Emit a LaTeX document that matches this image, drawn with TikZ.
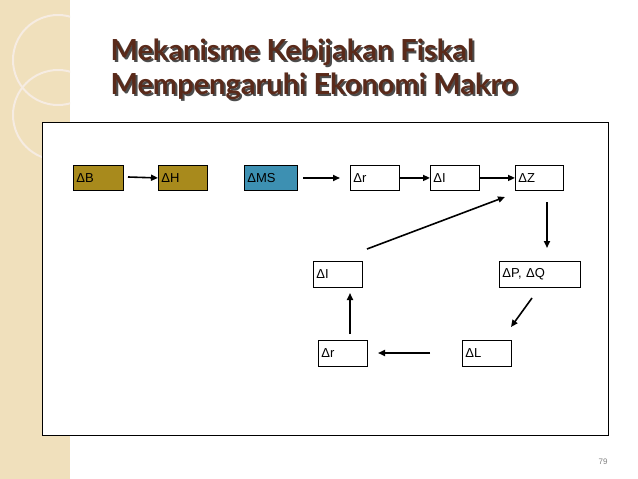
\documentclass[tikz,border=0pt]{standalone}
\usepackage{fontspec}
\setmainfont{Liberation Sans}
\newfontfamily\titlefont{Lato}
\usetikzlibrary{arrows.meta}
\definecolor{olivebox}{HTML}{A88A1C}
\definecolor{bluebox}{HTML}{3D90B2}
\definecolor{beige}{HTML}{F0E0BC}
\definecolor{titlebrown}{HTML}{5A2A1A}
\tikzset{
 bx/.style={draw,line width=0.9pt,minimum height=25pt,anchor=north west,inner sep=0pt,font=\fontsize{13}{13}\selectfont},
 ar/.style={-{Triangle[length=7pt,width=6pt]},line width=1.6pt},
 ttl/.style={anchor=west,font=\titlefont\bfseries\fontsize{29}{29}\selectfont}
}
\begin{document}
\begin{tikzpicture}[x=1pt,y=-1pt]
\useasboundingbox (0,0) rectangle (638,479);
\fill[white] (0,0) rectangle (638,479);
\fill[beige] (0,0) rectangle (70,479);
\draw[white,line width=1pt] (70,0) -- (70,479);
\begin{scope}
\clip (0,0) rectangle (70,479);
\draw[white!85!brown,line width=2pt] (58,60) circle (45);
\draw[white!85!brown,line width=2pt] (58,115) circle (45);
\end{scope}
\foreach \t/\y in {{Mekanisme Kebijakan Fiskal}/52,{Mempengaruhi Ekonomi Makro}/86}{
 \node[ttl,text=black!70] at (109,\y+2) {\t};
 \node[ttl,text=titlebrown] at (107,\y) {\t};
}
\draw[line width=0.9pt,fill=white] (42,122) rectangle (608,435);
\node[bx,fill=olivebox,minimum width=50pt,text width=44pt] (b) at (73,165) {ΔB};
\node[bx,fill=olivebox,minimum width=49pt,text width=43pt] (h) at (158,165) {ΔH};
\node[bx,fill=bluebox,minimum width=53pt,text width=47pt] (ms) at (244,165) {ΔMS};
\node[bx,minimum width=49pt,text width=43pt] (r1) at (350,165) {Δr};
\node[bx,minimum width=49pt,text width=43pt] (i1) at (430,165) {ΔI};
\node[bx,minimum width=48pt,text width=42pt] (z) at (515,165) {ΔZ};
\node[bx,minimum width=49pt,text width=43pt,minimum height=26pt] (i2) at (313,261) {ΔI};
\node[bx,minimum width=81pt,text width=75pt,minimum height=26pt] (pq) at (499,261) {ΔP, ΔQ};
\node[bx,minimum width=49pt,text width=43pt,minimum height=26pt] (r2) at (318,340) {Δr};
\node[bx,minimum width=49pt,text width=43pt,minimum height=26pt] (l) at (462,340) {ΔL};
\coordinate (a1) at (128,177); \coordinate (a2) at (303,178);
\coordinate (a3) at (367,249); \coordinate (a4) at (505,197);
\coordinate (a5) at (547,202); \coordinate (a5e) at (547,248);
\coordinate (a6) at (532,298); \coordinate (a6e) at (511,327);
\coordinate (a7) at (430,353); \coordinate (a7e) at (378,353);
\coordinate (a8) at (350,334); \coordinate (a8e) at (350,293);
\coordinate (a2e) at (340,178);
\draw[ar] (a1) -- (h.west);
\draw[ar] (a2) -- (a2e);
\draw[ar] (r1.east) -- (i1.west);
\draw[ar] (i1.east) -- (z.west);
\draw[ar] (a3) -- (a4);
\draw[ar] (a5) -- (a5e);
\draw[ar] (a6) -- (a6e);
\draw[ar] (a7) -- (a7e);
\draw[ar] (a8) -- (a8e);
\node[text=black!50,font=\fontsize{8}{8}\selectfont] (pg) at (603,462) {79};
\end{tikzpicture}
\end{document}
